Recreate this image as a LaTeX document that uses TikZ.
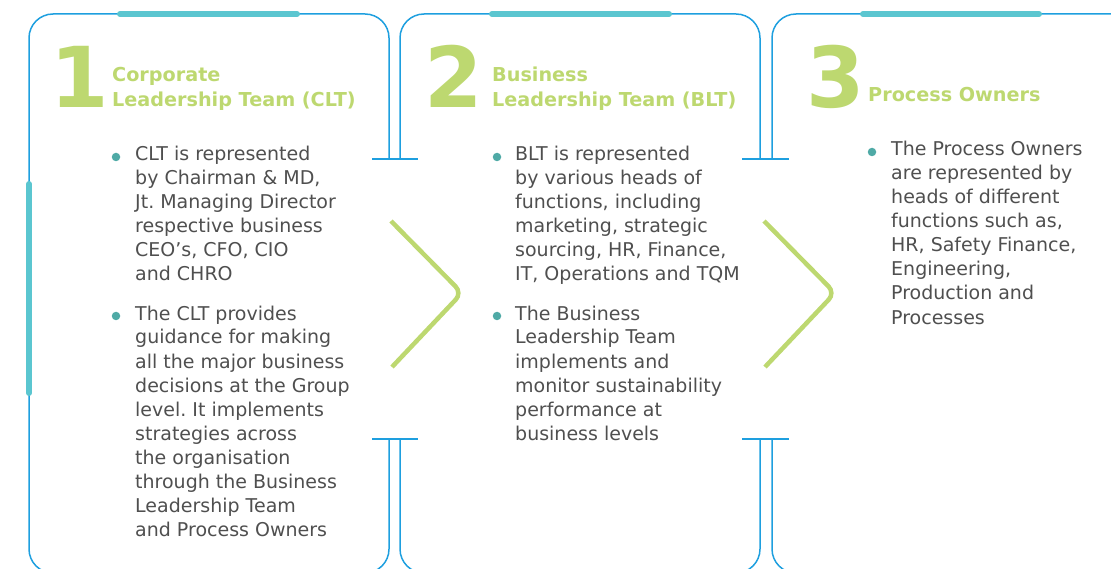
\documentclass[tikz,border=0pt]{standalone}
\usepackage{fontspec}
\setmainfont{DejaVu Sans}
\frenchspacing
\definecolor{outblue}{HTML}{1E9FDF}
\definecolor{barteal}{HTML}{5BC6D0}
\definecolor{lgreen}{HTML}{BDD870}
\definecolor{bodygray}{HTML}{4F4F4F}
\definecolor{dotteal}{HTML}{4FAAA6}
\tikzset{
  outline/.style={draw=outblue, line width=1.5pt, rounded corners=24pt},
  tbar/.style={draw=outblue, line width=1.5pt},
  topbar/.style={draw=barteal, line width=6pt, line cap=round},
  chev/.style={draw=lgreen, line width=4.5pt, rounded corners=9pt},
  body/.style={anchor=base west, inner sep=0pt, font=\fontsize{19}{24}\selectfont, text=bodygray},
  head/.style={anchor=base west, inner sep=0pt, font=\bfseries\fontsize{19.2}{24}\selectfont, text=lgreen},
  digit/.style={anchor=base west, inner sep=0pt, font=\bfseries\fontsize{84}{84}\selectfont, text=lgreen},
  dot/.style={circle, fill=dotteal, inner sep=0pt, minimum size=8.5pt}
}
\begin{document}
\begin{tikzpicture}[x=1pt,y=-1pt]
\useasboundingbox (0,0) rectangle (1111,569);
\begin{scope}
\clip (0,0) rectangle (1111,569);
% panel 1
\draw[outline] (389,159) -- (389,14) -- (29,14) -- (29,573) -- (389,573) -- (389,439);
% panel 2
\draw[outline] (760,159) -- (760,14) -- (400,14) -- (400,159);
\draw[outline] (400,439) -- (400,573) -- (760,573) -- (760,439);
% panel 3
\draw[outline] (1150,14) -- (772,14) -- (772,159);
\draw[outline] (772,439) -- (772,573) -- (1150,573);
% T bars
\draw[tbar] (372,159) -- (418,159);
\draw[tbar] (372,439) -- (418,439);
\draw[tbar] (742,159) -- (789,159);
\draw[tbar] (742,439) -- (789,439);
% teal bars
\draw[topbar] (120,14) -- (297,14);
\draw[topbar] (492,14) -- (669,14);
\draw[topbar] (863,14) -- (1039,14);
\draw[topbar] (29,184) -- (29,393);
% chevrons
\draw[chev] (391,221) -- (462,293) -- (392,367);
\draw[chev] (764,221) -- (835,293) -- (765,367);
\end{scope}
% headings
\node[digit] (n1) at (50,108) {1};
\node[head] (h1a) at (112,82) {Corporate};
\node[head] (h1b) at (112,107) {Leadership Team (CLT)};
\node[digit] (n2) at (424,108) {2};
\node[head] (h2a) at (492,82) {Business};
\node[head] (h2b) at (492,107) {Leadership Team (BLT)};
\node[digit] (n3) at (806,108) {3};
\node[head] (h3a) at (868,102) {Process Owners};
% bullets
\node[dot] (d1) at (116,157) {};
\node[dot] (d2) at (116,316) {};
\node[dot] (d3) at (497,157) {};
\node[dot] (d4) at (497,316) {};
\node[dot] (d5) at (872,152) {};
% panel 1 text
\foreach \t [count=\i] in {CLT is represented,{by Chairman \& MD,},Jt. Managing Director,respective business,{CEO’s, CFO, CIO},and CHRO}
  \node[body] (a\i) at (135,{161+24*(\i-1)}) {\t};
\foreach \t [count=\i] in {The CLT provides,guidance for making,all the major business,decisions at the Group,level. It implements,strategies across,the organisation,through the Business,Leadership Team,and Process Owners}
  \node[body] (b\i) at (135,{320+24*(\i-1)}) {\t};
% panel 2 text
\foreach \t [count=\i] in {BLT is represented,by various heads of,{functions, including},{marketing, strategic},{sourcing, HR, Finance,},{IT, Operations and TQM}}
  \node[body] (c\i) at (515,{161+24*(\i-1)}) {\t};
\foreach \t [count=\i] in {The Business,Leadership Team,implements and,monitor sustainability,performance at,business levels}
  \node[body] (e\i) at (515,{320+24*(\i-1)}) {\t};
% panel 3 text
\foreach \t [count=\i] in {The Process Owners,are represented by,heads of different,{functions such as,},{HR, Safety Finance,},{Engineering,},Production and,Processes}
  \node[body] (f\i) at (891,{156+24*(\i-1)}) {\t};
\end{tikzpicture}
\end{document}
